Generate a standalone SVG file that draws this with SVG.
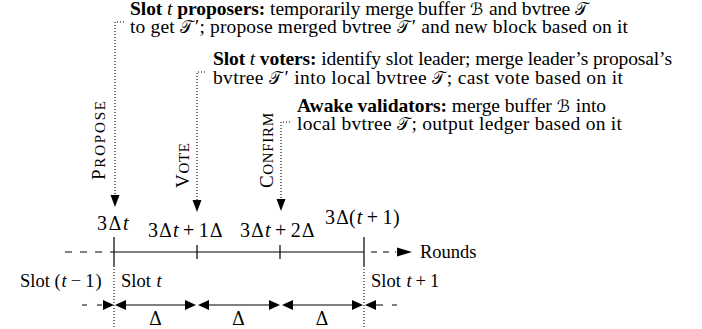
<svg xmlns="http://www.w3.org/2000/svg" width="702" height="329" viewBox="0 0 702 329">
  <style>
    .tx { font-family: "Liberation Serif", "Times New Roman", serif; font-size: 19.5px; fill: #000; }
    .lb { font-family: "Liberation Serif", "Times New Roman", serif; font-size: 18.5px; fill: #000; }
    .mth { font-family: "Liberation Serif", "Times New Roman", serif; font-size: 20px; fill: #000; }
    .b { font-weight: bold; }
    .i { font-style: italic; font-weight: normal; }
    .cal { font-family: "DejaVu Serif", "DejaVu Sans", serif; font-size: 17px; font-style: normal; font-weight: normal; }
    .dl { font-family: "DejaVu Serif", serif; font-size: 18px; font-style: normal; }
    .sc { font-family: "Liberation Serif", "Times New Roman", serif; fill: #000; }
    .ln { stroke: #000; stroke-width: 1.2; fill: none; }
    .dot { stroke: #000; stroke-width: 1.1; stroke-dasharray: 1 2; fill: none; }
    .ah { fill: #000; stroke: none; }
  </style>
  <defs>
    <!-- filled arrowhead pointing down, tip at origin -->
    <path id="headDown" d="M0,0 L-4.5,-12 L4.5,-12 Z"/>
    <!-- filled arrowheads pointing right / left, tip at origin -->
    <path id="headRight" d="M0,0 L-11,-5 L-11,5 Z"/>
    <path id="headLeft" d="M0,0 L11,-5 L11,5 Z"/>
  </defs>

  <!-- description blocks -->
  <g id="proposers">
    <text class="tx" x="130" y="15" textLength="458" lengthAdjust="spacing"><tspan class="b">Slot </tspan><tspan class="i">t</tspan><tspan class="b"> proposers:</tspan> temporarily merge buffer <tspan class="cal">ℬ</tspan><tspan dx="1"> and bvtree </tspan><tspan class="cal">𝒯</tspan></text>
    <text class="tx" x="130" y="33" textLength="498" lengthAdjust="spacing">to get <tspan class="cal">𝒯</tspan><tspan dx="2">′</tspan>; propose merged bvtree <tspan class="cal">𝒯</tspan><tspan dx="2">′</tspan> and new block based on it</text>
  </g>
  <g id="voters">
    <text class="tx" x="213" y="65" textLength="459" lengthAdjust="spacing"><tspan class="b">Slot </tspan><tspan class="i">t</tspan><tspan class="b"> voters:</tspan> identify slot leader; merge leader’s proposal’s</text>
    <text class="tx" x="213" y="84" textLength="410" lengthAdjust="spacing">bvtree <tspan class="cal">𝒯</tspan><tspan dx="2">′</tspan> into local bvtree <tspan class="cal">𝒯</tspan><tspan dx="1">;</tspan> cast vote based on it</text>
  </g>
  <g id="validators">
    <text class="tx" x="297" y="112" textLength="309" lengthAdjust="spacing"><tspan class="b">Awake validators:</tspan> merge buffer <tspan class="cal">ℬ</tspan><tspan dx="1"> into</tspan></text>
    <text class="tx" x="297" y="130" textLength="325" lengthAdjust="spacing">local bvtree <tspan class="cal">𝒯</tspan><tspan dx="1">;</tspan> output ledger based on it</text>
  </g>

  <!-- phase labels, rotated, in small capitals -->
  <g id="label-propose" transform="translate(105,180) rotate(-90)">
    <text class="sc" x="0" y="0" textLength="79" lengthAdjust="spacing"><tspan font-size="19">P</tspan><tspan font-size="15">ROPOSE</tspan></text>
  </g>
  <g id="label-vote" transform="translate(189,188) rotate(-90)">
    <text class="sc" x="0" y="0" textLength="45" lengthAdjust="spacing"><tspan font-size="19">V</tspan><tspan font-size="15">OTE</tspan></text>
  </g>
  <g id="label-confirm" transform="translate(273,188) rotate(-90)">
    <text class="sc" x="0" y="0" textLength="75" lengthAdjust="spacing"><tspan font-size="19">C</tspan><tspan font-size="15">ONFIRM</tspan></text>
  </g>

  <!-- dotted connectors from the blocks down to the time axis -->
  <g id="connectors">
    <path class="dot" d="M124,22 H115 V196"/>
    <use href="#headDown" class="ah" x="115" y="207"/>
    <path class="dot" d="M205,72 H197 V201"/>
    <use href="#headDown" class="ah" x="197" y="212"/>
    <path class="dot" d="M290,122 H281 V200"/>
    <use href="#headDown" class="ah" x="281" y="211"/>
  </g>

  <!-- time axis -->
  <g id="axis">
    <line class="ln" x1="65" y1="252" x2="114" y2="252" stroke-dasharray="7 8"/>
    <line class="ln" x1="114" y1="252" x2="364" y2="252"/>
    <line class="ln" x1="371" y1="252" x2="396" y2="252" stroke-dasharray="6 6"/>
    <path class="ah" d="M412,252 L397,247.5 L397,256.5 Z"/>
    <text class="lb" x="420" y="258">Rounds</text>

    <line class="ln" x1="114" y1="237" x2="114" y2="266"/>
    <line class="ln" x1="197" y1="245" x2="197" y2="259"/>
    <line class="ln" x1="280" y1="245" x2="280" y2="259"/>
    <line class="ln" x1="364" y1="237" x2="364" y2="266"/>
    <line class="dot" x1="114" y1="266" x2="114" y2="329"/>
    <line class="dot" x1="364" y1="266" x2="364" y2="329"/>

    <text class="mth" x="97" y="230">3<tspan class="dl" dx="1.5">Δ</tspan><tspan class="i" dx="1.5">t</tspan></text>
    <text class="mth" x="148" y="237">3<tspan class="dl" dx="1">Δ</tspan><tspan class="i" dx="1">t</tspan><tspan dx="4.5">+</tspan><tspan dx="4.5">1</tspan><tspan class="dl" dx="1">Δ</tspan></text>
    <text class="mth" x="240" y="237">3<tspan class="dl" dx="1">Δ</tspan><tspan class="i" dx="1">t</tspan><tspan dx="4.5">+</tspan><tspan dx="4.5">2</tspan><tspan class="dl" dx="1">Δ</tspan></text>
    <text class="mth" x="325" y="224">3<tspan class="dl" dx="1">Δ</tspan>(<tspan class="i" dx="1">t</tspan><tspan dx="4.5">+</tspan><tspan dx="4.5">1</tspan><tspan dx="0.5">)</tspan></text>
  </g>

  <!-- slot labels -->
  <g id="slots">
    <text class="lb" x="20" y="287">Slot (<tspan class="i" dx="1">t</tspan><tspan dx="4">−</tspan><tspan dx="4">1</tspan><tspan dx="1">)</tspan></text>
    <text class="lb" x="121" y="287">Slot <tspan class="i" dx="1">t</tspan></text>
    <text class="lb" x="371" y="287">Slot <tspan class="i" dx="1">t</tspan><tspan dx="4">+</tspan><tspan dx="4">1</tspan></text>
  </g>

  <!-- round durations -->
  <g id="durations">
    <line class="ln" x1="82" y1="305" x2="103" y2="305" stroke-dasharray="5 10"/>
    <use href="#headRight" class="ah" x="114" y="305"/>
    <line class="ln" x1="120" y1="305" x2="191" y2="305"/>
    <use href="#headLeft" class="ah" x="115" y="305"/>
    <use href="#headRight" class="ah" x="196" y="305"/>
    <line class="ln" x1="203" y1="305" x2="274" y2="305"/>
    <use href="#headLeft" class="ah" x="198" y="305"/>
    <use href="#headRight" class="ah" x="280" y="305"/>
    <line class="ln" x1="287" y1="305" x2="358" y2="305"/>
    <use href="#headLeft" class="ah" x="282" y="305"/>
    <use href="#headRight" class="ah" x="363" y="305"/>
    <use href="#headLeft" class="ah" x="365" y="305"/>
    <line class="ln" x1="376" y1="305" x2="397" y2="305" stroke-dasharray="7 9"/>
    <text class="dl" x="155.5" y="325" text-anchor="middle">Δ</text>
    <text class="dl" x="238.5" y="325" text-anchor="middle">Δ</text>
    <text class="dl" x="322" y="325" text-anchor="middle">Δ</text>
  </g>
</svg>
